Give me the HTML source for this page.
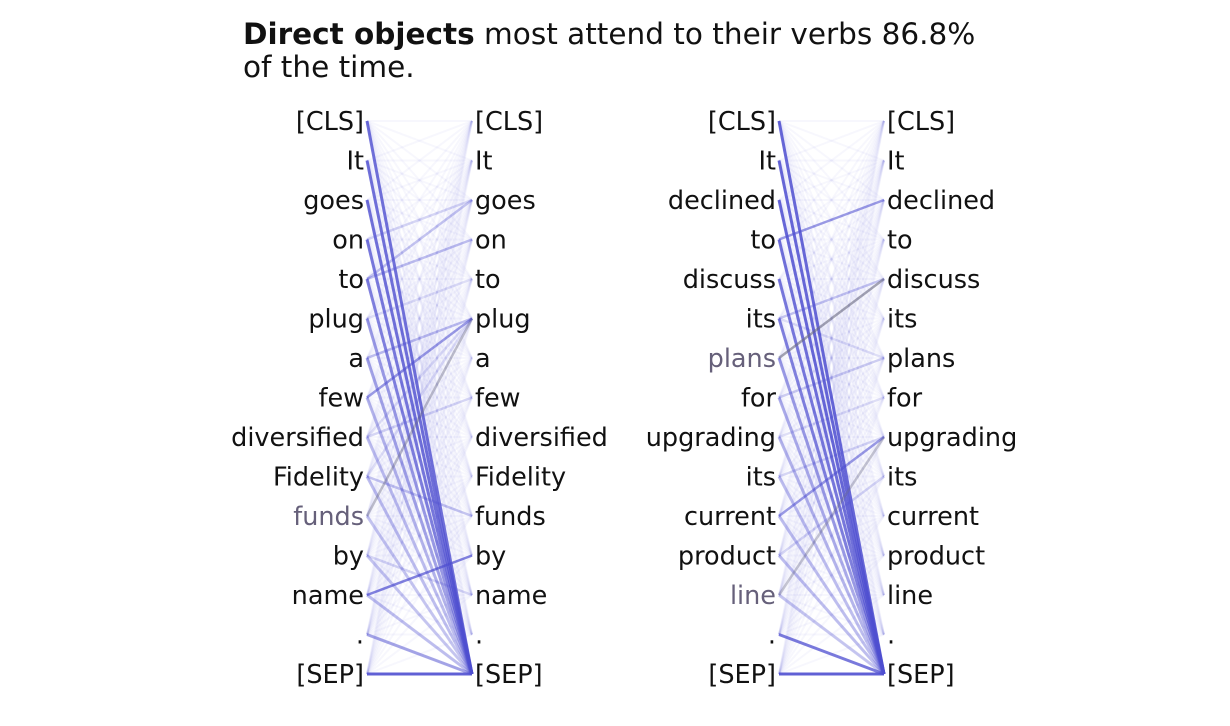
<!DOCTYPE html>
<html><head><meta charset="utf-8">
<style>
body{margin:0;background:#fff;width:1230px;height:726px;overflow:hidden;font-family:"DejaVu Sans","Liberation Sans",sans-serif;}
#title{position:absolute;left:243px;top:18px;font-size:29.5px;line-height:33px;color:#111;}
svg{position:absolute;left:0;top:0;}
</style></head>
<body>
<div id="title"><b>Direct objects</b> most attend to their verbs 86.8%<br>of the time.</div>
<svg id="chart" width="1230" height="726"></svg>
<script>
const tokensA = ["[CLS]","It","goes","on","to","plug","a","few","diversified","Fidelity","funds","by","name",".","[SEP]"];
const tokensB = ["[CLS]","It","declined","to","discuss","its","plans","for","upgrading","its","current","product","line",".","[SEP]"];
const focusA = 10;
const focusB = 6;
const focusB2 = 12;
// edges: [from, to, weight]
const edgesA = [[0,14,0.8],[1,14,0.8],[2,14,0.8],[3,14,0.75],[4,14,0.7],[5,14,0.55],[6,14,0.5],[7,14,0.4],[8,14,0.35],[9,14,0.35],[10,14,0.3],[11,14,0.3],[12,14,0.35],[13,14,0.5],[14,14,0.9],
 [4,2,0.3],[4,3,0.35],[3,2,0.2],[6,5,0.35],[7,5,0.55],[8,7,0.2],[9,10,0.3],[10,5,0.4],[12,11,0.7],[11,12,0.2],[5,4,0.15],[8,5,0.15],[9,5,0.15]];
const edgesB = [[0,14,0.85],[1,14,0.85],[2,14,0.85],[3,14,0.8],[4,14,0.75],[5,14,0.7],[6,14,0.55],[7,14,0.45],[8,14,0.4],[9,14,0.35],[10,14,0.35],[11,14,0.35],[12,14,0.3],[13,14,0.75],[14,14,0.9],
 [3,2,0.55],[5,4,0.3],[6,4,0.6],[7,6,0.25],[10,8,0.55],[12,8,0.35],[11,9,0.2],[9,8,0.2],[5,6,0.15],[8,7,0.15]];
const svg=document.getElementById('chart');
const NS='http://www.w3.org/2000/svg';
function yRow(i){return 121+i*39.5;}
function panel(tokens,edges,x0,x1,focusList,name){
  const g=document.createElementNS(NS,'g');
  
  
  svg.appendChild(g);
  for(let i=0;i<tokens.length;i++)for(let j=0;j<tokens.length;j++){
    const l=document.createElementNS(NS,'line');
    
    
    l.setAttribute('x1',x0);l.setAttribute('y1',yRow(i));l.setAttribute('x2',x1);l.setAttribute('y2',yRow(j));
    l.setAttribute('stroke','#5b5bd6');l.setAttribute('stroke-opacity',0.05);l.setAttribute('stroke-width',2);
    g.appendChild(l);
  }
  edges.forEach(e=>{
    const l=document.createElementNS(NS,'line');
    
    
    l.setAttribute('x1',x0);l.setAttribute('y1',yRow(e[0]));l.setAttribute('x2',x1);l.setAttribute('y2',yRow(e[1]));
    const grey=focusList.includes(e[0])&&e[1]!==14;
    l.setAttribute('stroke',grey?'#6a6a80':'#4f4fd0');
    l.setAttribute('stroke-opacity',e[2]);l.setAttribute('stroke-width',e[1]===14?3:2.5);
    g.appendChild(l);
  });
  tokens.forEach((t,i)=>{
    const a=document.createElementNS(NS,'text');
    
    
    a.setAttribute('x',x0-3);a.setAttribute('y',yRow(i)+9);a.setAttribute('text-anchor','end');
    a.setAttribute('font-size','25.5');a.setAttribute('fill',focusList.includes(i)?'#66607a':'#111');
    a.textContent=t;g.appendChild(a);
    const b=document.createElementNS(NS,'text');
    
    
    b.setAttribute('x',x1+3);b.setAttribute('y',yRow(i)+9);
    b.setAttribute('font-size','25.5');b.setAttribute('fill','#111');
    b.textContent=t;g.appendChild(b);
  });
}
panel(tokensA,edgesA,367,472,[focusA],'left-panel');
panel(tokensB,edgesB,779,884,[focusB,focusB2],'right-panel');
</script>
</body></html>
